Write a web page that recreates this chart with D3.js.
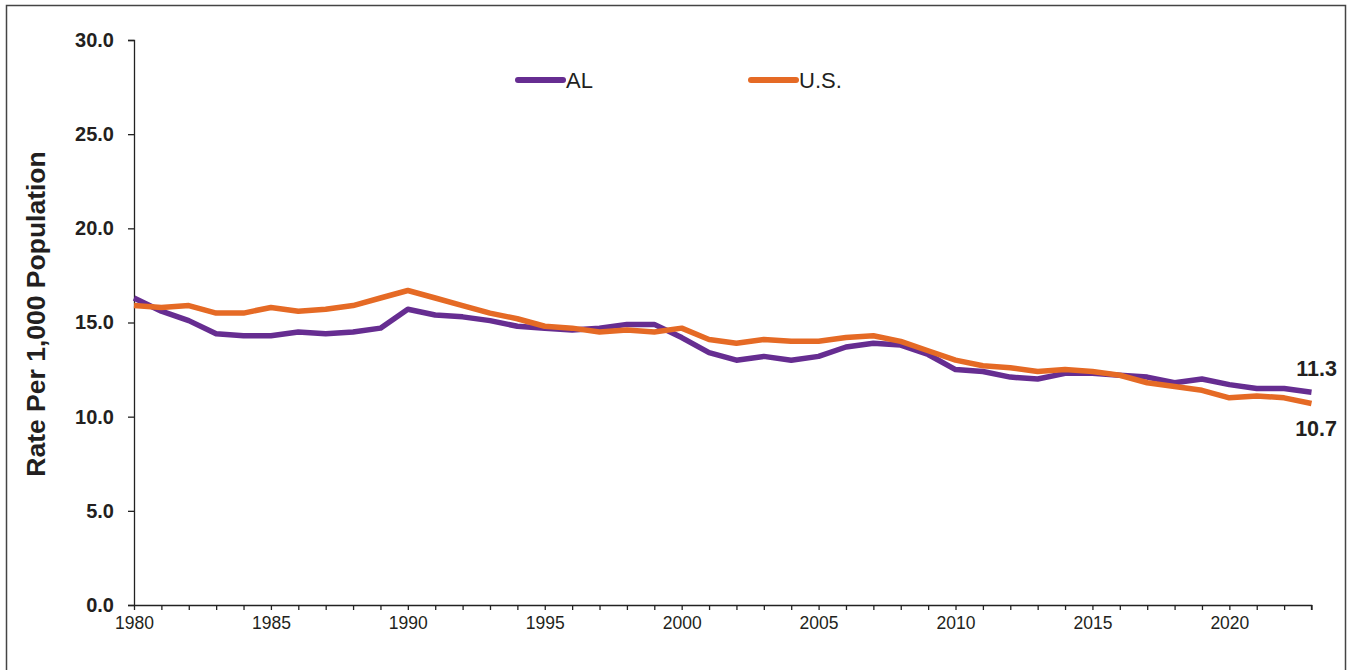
<!DOCTYPE html>
<html>
<head>
<meta charset="utf-8">
<script src="https://cdn.jsdelivr.net/npm/d3@7"></script>
<style>
  html, body { margin: 0; padding: 0; background: #fff; }
  svg { display: block; font-family: "Liberation Sans", Arial, sans-serif; }
</style>
</head>
<body>
<svg id="chart" width="1349" height="670"></svg>
<script>
const years = d3.range(1980, 2024);
const alValues = [16.3, 15.6, 15.1, 14.4, 14.3, 14.3, 14.5, 14.4, 14.5, 14.7,
                  15.7, 15.4, 15.3, 15.1, 14.8, 14.7, 14.6, 14.7, 14.9, 14.9,
                  14.2, 13.4, 13.0, 13.2, 13.0, 13.2, 13.7, 13.9, 13.8, 13.3,
                  12.5, 12.4, 12.1, 12.0, 12.3, 12.3, 12.2, 12.1, 11.8, 12.0,
                  11.7, 11.5, 11.5, 11.3];
const usValues = [15.9, 15.8, 15.9, 15.5, 15.5, 15.8, 15.6, 15.7, 15.9, 16.3,
                  16.7, 16.3, 15.9, 15.5, 15.2, 14.8, 14.7, 14.5, 14.6, 14.5,
                  14.7, 14.1, 13.9, 14.1, 14.0, 14.0, 14.2, 14.3, 14.0, 13.5,
                  13.0, 12.7, 12.6, 12.4, 12.5, 12.4, 12.2, 11.8, 11.6, 11.4,
                  11.0, 11.1, 11.0, 10.7];
const yTicks = [0, 5, 10, 15, 20, 25, 30];
const xLabelYears = [1980, 1985, 1990, 1995, 2000, 2005, 2010, 2015, 2020];
const seriesNames = ["AL", "U.S."];
const seriesColors = ["#662D91", "#E56A25"];
const yTitle = "Rate Per 1,000 Population";

const svg = d3.select("#chart");

// outer frame
svg.append("path")
  .attr("d", "M6.5,672 V5.5 H1345.5 V672")
  .attr("fill", "none").attr("stroke", "#444").attr("stroke-width", 1.5);

const x = d3.scaleLinear().domain([1980, 2023]).range([134, 1311.5]);
const y = d3.scaleLinear().domain([0, 30]).range([605, 40]);

// y axis
const yAxis = d3.axisLeft(y).tickValues(yTicks).tickSize(6).tickPadding(14)
  .tickFormat(d3.format(".1f"));
const gy = svg.append("g").attr("transform", "translate(134,0)").call(yAxis);
gy.select(".domain").attr("stroke", "#222").attr("stroke-width", 1.3).attr("d", "M-6,40.5H0.5V605.5");
gy.selectAll(".tick line").attr("stroke", "#222").attr("stroke-width", 1.3);
gy.selectAll(".tick text").attr("font-size", 20).attr("font-weight", "bold")
  .attr("fill", "#231f20").attr("font-family", "Liberation Sans, Arial, sans-serif");

// x axis
const xAxis = d3.axisBottom(x).tickValues(years).tickSize(5).tickPadding(7)
  .tickFormat(d => xLabelYears.includes(d) ? String(d) : "");
const gx = svg.append("g").attr("transform", "translate(0,605)").call(xAxis);
gx.select(".domain").attr("stroke", "#222").attr("stroke-width", 1.3).attr("d", "M128,0.5H1311.5V5");
gx.selectAll(".tick line").attr("stroke", "#222").attr("stroke-width", 1.3);
gx.selectAll(".tick text").attr("font-size", 17.5).attr("fill", "#231f20")
  .attr("font-family", "Liberation Sans, Arial, sans-serif");

// y title
svg.append("text")
  .attr("transform", "translate(45,314) rotate(-90)")
  .attr("text-anchor", "middle")
  .attr("font-size", 26.5).attr("font-weight", "bold").attr("fill", "#231f20")
  .text(yTitle);

const line = d3.line().x((d, i) => x(years[i])).y(d => y(d));

[alValues, usValues].forEach((vals, k) => {
  svg.append("path")
    .datum(vals)
    .attr("d", line)
    .attr("fill", "none")
    .attr("stroke", seriesColors[k])
    .attr("stroke-width", 5.5)
    .attr("stroke-linejoin", "round");
});

// end labels
svg.append("text").attr("x", 1337).attr("y", y(alValues[alValues.length - 1]) - 16)
  .attr("text-anchor", "end").attr("font-size", 21.5).attr("font-weight", "bold").attr("fill", "#231f20")
  .text(d3.format(".1f")(alValues[alValues.length - 1]));
svg.append("text").attr("x", 1337).attr("y", y(usValues[usValues.length - 1]) + 33)
  .attr("text-anchor", "end").attr("font-size", 21.5).attr("font-weight", "bold").attr("fill", "#231f20")
  .text(d3.format(".1f")(usValues[usValues.length - 1]));

// legend
const legendX = [518, 751];
seriesNames.forEach((name, k) => {
  svg.append("line").attr("x1", legendX[k]).attr("x2", legendX[k] + 45)
    .attr("y1", 80).attr("y2", 80)
    .attr("stroke", seriesColors[k]).attr("stroke-width", 6).attr("stroke-linecap", "round");
  svg.append("text").attr("x", legendX[k] + 48).attr("y", 88)
    .attr("font-size", 22).attr("fill", "#231f20").text(name);
});
</script>
</body>
</html>
